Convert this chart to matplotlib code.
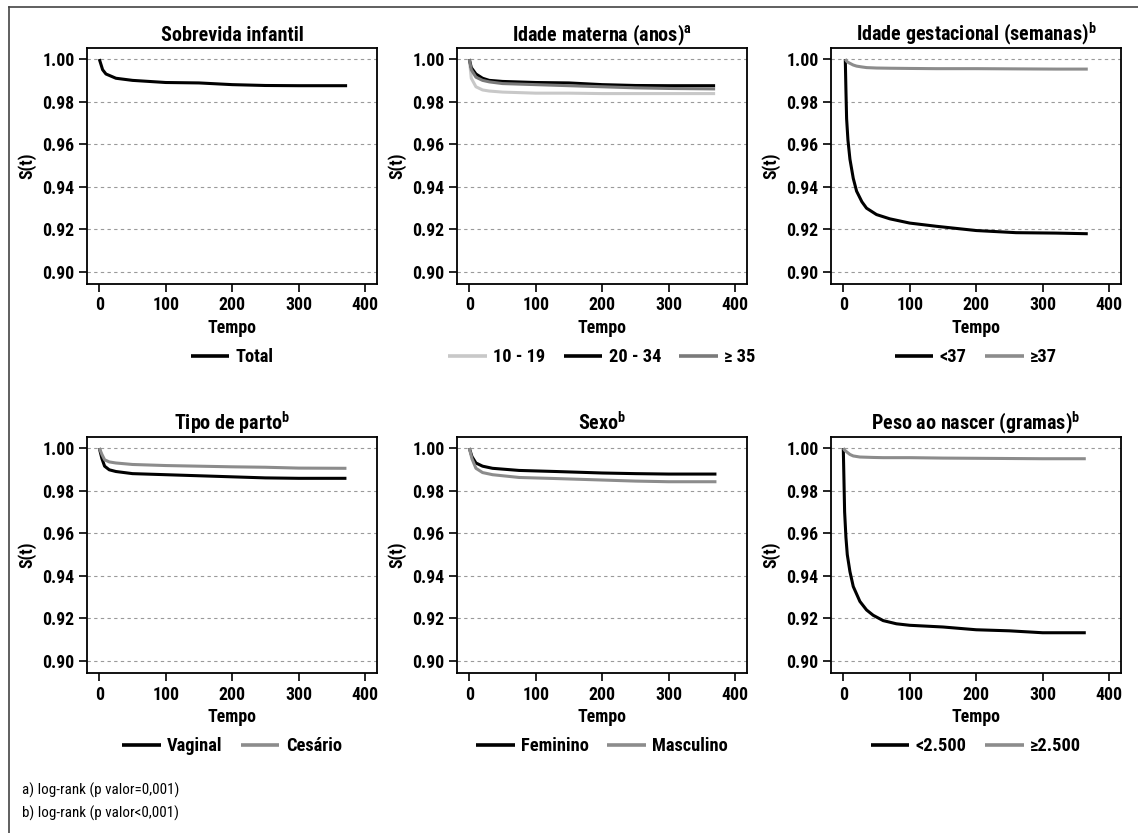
import matplotlib
matplotlib.use("Agg")
import matplotlib.pyplot as plt
from matplotlib.lines import Line2D
from matplotlib import font_manager as fm

_names = {f.name for f in fm.fontManager.ttflist}
_cands = ['Liberation Sans Narrow', 'DejaVu Sans Condensed', 'Roboto Condensed',
          'Open Sans Condensed', 'Noto Sans Condensed', 'Arial Narrow']
_main = next((c for c in _cands if c in _names), 'DejaVu Sans')
FONT = [_main, 'DejaVu Sans']
plt.rcParams['font.family'] = FONT
plt.rcParams['font.weight'] = 'bold'
plt.rcParams['font.stretch'] = 'condensed'
plt.rcParams['mathtext.fontset'] = 'custom'
plt.rcParams['mathtext.rm'] = _main + ':bold'
plt.rcParams['mathtext.bf'] = _main + ':bold'
SCALE = 1.0 if _main != 'DejaVu Sans' else 0.85

# ---------------- data ----------------
titles = ["Sobrevida infantil", "Idade materna (anos)$^{\\mathbf{a}}$",
          "Idade gestacional (semanas)$^{\\mathbf{b}}$", "Tipo de parto$^{\\mathbf{b}}$",
          "Sexo$^{\\mathbf{b}}$", "Peso ao nascer (gramas)$^{\\mathbf{b}}$"]

y_ticks = [0.90, 0.92, 0.94, 0.96, 0.98, 1.00]
x_ticks = [0, 100, 200, 300, 400]

# Panel 1: total
t_total = [0, 5, 10, 25, 50, 100, 150, 200, 250, 300, 373]
s_total = [1.000, 0.995, 0.993, 0.991, 0.990, 0.989, 0.9888, 0.988, 0.9876, 0.9875, 0.9875]

# Panel 2: idade materna
t_mat = [0, 3, 10, 20, 30, 50, 100, 150, 200, 250, 300, 370]
s_10_19 = [1.000, 0.991, 0.987, 0.9855, 0.985, 0.9845, 0.9840, 0.9840, 0.9838, 0.9838, 0.9838, 0.9838]
s_20_34 = [1.000, 0.996, 0.993, 0.991, 0.990, 0.9895, 0.989, 0.9888, 0.988, 0.9876, 0.9875, 0.9875]
s_35 = [1.000, 0.995, 0.9915, 0.990, 0.9893, 0.9885, 0.988, 0.9875, 0.987, 0.9865, 0.9862, 0.986]

# Panel 3: idade gestacional
t_ig = [3, 4, 5, 7, 10, 15, 20, 28, 35, 50, 70, 100, 140, 200, 260, 320, 368]
s_ig_lt37 = [1.000, 0.985, 0.972, 0.962, 0.953, 0.944, 0.938, 0.933, 0.930, 0.927, 0.925, 0.923, 0.9215, 0.9195, 0.9185, 0.9183, 0.918]
s_ig_ge37 = [1.000, 0.9995, 0.999, 0.9985, 0.998, 0.9972, 0.9967, 0.9963, 0.996, 0.9958, 0.9957, 0.9956, 0.9955, 0.9955, 0.9954, 0.9953, 0.9953]

# Panel 4: tipo de parto
t_parto = [0, 4, 8, 15, 25, 50, 100, 150, 200, 250, 300, 372]
s_vaginal = [1.000, 0.995, 0.9915, 0.9898, 0.989, 0.988, 0.9875, 0.987, 0.9865, 0.986, 0.9858, 0.9858]
s_cesario = [1.000, 0.997, 0.9945, 0.9935, 0.993, 0.9923, 0.9918, 0.9915, 0.9912, 0.991, 0.9906, 0.9905]

# Panel 5: sexo
t_sexo = [0, 4, 10, 20, 35, 75, 130, 200, 250, 300, 372]
s_fem = [1.000, 0.996, 0.993, 0.9915, 0.9905, 0.9895, 0.989, 0.9883, 0.988, 0.9878, 0.9878]
s_masc = [1.000, 0.995, 0.9905, 0.9885, 0.9875, 0.9862, 0.9857, 0.985, 0.9845, 0.9842, 0.9842]

# Panel 6: peso ao nascer
t_peso = [0, 1, 2, 4, 6, 10, 15, 25, 35, 45, 60, 80, 100, 150, 200, 250, 300, 365]
s_peso_lt = [1.000, 0.985, 0.970, 0.958, 0.950, 0.942, 0.935, 0.928, 0.924, 0.9215, 0.919, 0.9175, 0.9168, 0.916, 0.9147, 0.9142, 0.9133, 0.9133]
s_peso_ge = [1.000, 0.9995, 0.999, 0.9985, 0.998, 0.997, 0.9963, 0.9958, 0.9957, 0.9956, 0.9955, 0.9955, 0.9955, 0.9953, 0.9952, 0.9951, 0.995, 0.995]

BLACK = "#000000"
MID = "#8c8c8c"
LIGHT = "#c8c8c8"

panels = [
    [(t_total, s_total, BLACK, "Total")],
    [(t_mat, s_10_19, LIGHT, "10 - 19"), (t_mat, s_20_34, BLACK, "20 - 34"), (t_mat, s_35, "#7a7a7a", "\u2265 35")],
    [(t_ig, s_ig_lt37, BLACK, "<37"), (t_ig, s_ig_ge37, MID, "\u226537")],
    [(t_parto, s_vaginal, BLACK, "Vaginal"), (t_parto, s_cesario, MID, "Ces\u00e1rio")],
    [(t_sexo, s_fem, BLACK, "Feminino"), (t_sexo, s_masc, MID, "Masculino")],
    [(t_peso, s_peso_lt, BLACK, "<2.500"), (t_peso, s_peso_ge, MID, "\u22652.500")],
]

W, H = 1138, 833
fig = plt.figure(figsize=(W / 100, H / 100), dpi=100)

lefts = [87, 457, 831]
tops = [48, 437]
aw, ah = 290, 236

fs_tick = 12.8 * SCALE
fs_title = 14.5 * SCALE
fs_leg = 13.2 * SCALE

for i, series in enumerate(panels):
    r, c = divmod(i, 3)
    ax = fig.add_axes([lefts[c] / W, 1 - (tops[r] + ah) / H, aw / W, ah / H])
    for t, s, col, lab in series:
        ax.plot(t, s, color=col, lw=2.2, label=lab, solid_capstyle='butt')
    ax.set_xlim(-18.5, 418)
    ax.set_ylim(0.8944, 1.0052)
    ax.set_xticks(x_ticks)
    ax.set_yticks(y_ticks)
    ax.set_yticklabels([f"{v:.2f}" for v in y_ticks])
    ax.yaxis.grid(True, linestyle=(0, (3, 3)), color="#9a9a9a", lw=0.8)
    ax.set_axisbelow(True)
    ax.tick_params(direction='out', length=6, width=1.2, labelsize=fs_tick, pad=3)
    for lbl in ax.get_xticklabels() + ax.get_yticklabels():
        lbl.set_fontweight('bold')
    for sp in ax.spines.values():
        sp.set_linewidth(1.3)
    ax.set_title(titles[i], fontsize=fs_title, fontweight='bold', pad=5)
    ax.set_xlabel("Tempo", fontsize=fs_tick, fontweight='bold', labelpad=3)
    ax.set_ylabel("S(t)", fontsize=fs_tick, fontweight='bold', labelpad=4)
    leg = ax.legend(loc='center', bbox_to_anchor=(0.5, -0.31), ncol=len(series),
                    frameon=False, fontsize=fs_leg, handlelength=2.1, handletextpad=0.35,
                    columnspacing=1.0)
    for txt in leg.get_texts():
        txt.set_fontweight('bold')
    for ln in leg.get_lines():
        ln.set_linewidth(2.6)

# footnotes
fig.text(22 / W, 1 - 790 / H, "a) log-rank (p valor=0,001)", fontsize=10.8 * SCALE,
         fontweight='normal', va='center', ha='left')
fig.text(22 / W, 1 - 813 / H, "b) log-rank (p valor<0,001)", fontsize=10.8 * SCALE,
         fontweight='normal', va='center', ha='left')

# outer frame (left and top edges visible)
fig.add_artist(Line2D([9 / W, 9 / W], [0, 1 - 7 / H], color="#444444", lw=1.2,
                      transform=fig.transFigure))
fig.add_artist(Line2D([9 / W, 1], [1 - 7 / H, 1 - 7 / H], color="#444444", lw=1.2,
                      transform=fig.transFigure))

fig.savefig("out.png", dpi=100, facecolor="white")
